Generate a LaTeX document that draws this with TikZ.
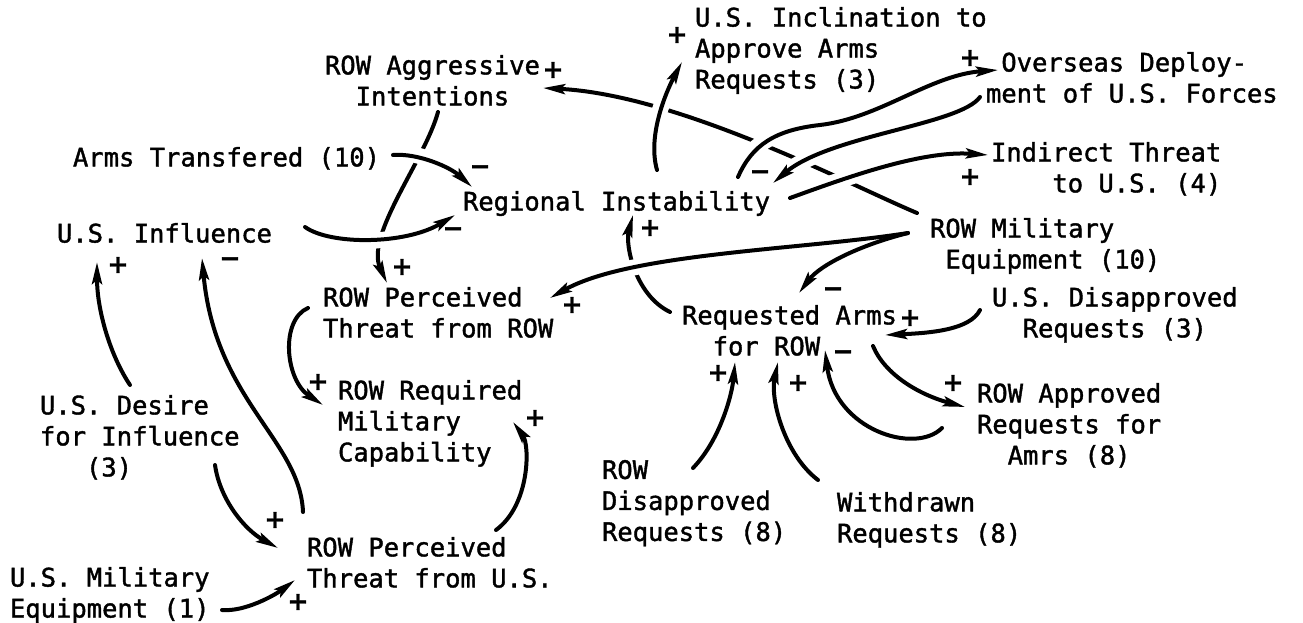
\documentclass[tikz,border=0pt]{standalone}
\usepackage{fontspec}
\usetikzlibrary{arrows.meta,calc}
\newfontfamily\labelfont{DejaVu Sans Mono}[FakeBold=1.5]
\newfontfamily\signfont{DejaVu Sans}[FakeBold=1.5]

\tikzset{
  var/.style={anchor=north west, inner sep=0pt, outer sep=0pt, align=left,
              font=\labelfont\fontsize{25.5}{31}\selectfont},
  link/.style={line width=4pt, line cap=round,
               -{Stealth[length=22pt,width=10pt,inset=4pt]}},
  hop/.style={preaction={draw=white, line width=16pt, -, line cap=butt,
              shorten <=14pt, shorten >=14pt}},
  sign/.style={inner sep=0pt, font=\signfont\bfseries\fontsize{25}{25}\selectfont},
}

\begin{document}
\begin{tikzpicture}[x=1pt,y=-1pt]
\useasboundingbox (0,0) rectangle (1303,623);

% variables of the causal loop model
\node[var] (incl) at (695,7) {U.S. Inclination to\\Approve Arms\\Requests (3)};
\node[var] (aggr) at (325,55) {ROW Aggressive\\\hphantom{xx}Intentions};
\node[var] (depl) at (986,52) {\hphantom{x}Overseas Deploy-\\ment of U.S. Forces};
\node[var] (indir) at (991,142) {Indirect Threat\\\hphantom{xxxx}to U.S. (4)};
\node[var] (arms) at (73,147) {Arms Transfered (10)};
\node[var] (regi) at (463,191) {Regional Instability};
\node[var] (infl) at (57,223) {U.S. Influence};
\node[var] (rowmil) at (930,218) {ROW Military\\\hphantom{x}Equipment (10)};
\node[var] (percrow) at (323,287) {ROW Perceived\\Threat from ROW};
\node[var] (reqarms) at (682,305) {Requested Arms\\\hphantom{xx}for ROW};
\node[var] (usdis) at (992,287) {U.S. Disapproved\\\hphantom{xx}Requests (3)};
\node[var] (reqcap) at (338,380) {ROW Required\\Military\\Capability};
\node[var] (desire) at (40,395) {U.S. Desire\\for Influence\\\hphantom{xxx}(3)};
\node[var] (approved) at (977,383) {ROW Approved\\Requests for\\\hphantom{xx}Amrs (8)};
\node[var] (rowdis) at (602,460) {ROW\\Disapproved\\Requests (8)};
\node[var] (withdrawn) at (837,492) {Withdrawn\\Requests (8)};
\node[var] (percus) at (307,537) {ROW Perceived\\Threat from U.S.};
\node[var] (usmil) at (10,567) {U.S. Military\\Equipment (1)};

% links that get broken where other links cross them
\draw[link] ($(rowmil.north west)+(-13,-5)$) .. controls +(-67,-28) and +(137,7) .. ($(aggr.north west)+(218,33)$);
\draw[link] ($(aggr.north west)+(113,57)$) .. controls +(-13,48) and +(-22,-48) .. ($(percrow.north west)+(64,-4)$);
\draw[link] ($(reqarms.north west)+(-12,7)$) .. controls +(-35,-17) and +(-8,30) .. ($(regi.north west)+(170,24)$);

% crossing links
\draw[link,hop] ($(arms.north west)+(320,8)$) .. controls +(25,-2) and +(-22,-20) .. ($(regi.north west)+(9,-4)$);
\draw[link,hop] ($(infl.north west)+(248,4)$) .. controls +(25,18) and +(-50,30) .. ($(regi.north west)+(-8,24)$);
\draw[link,hop] ($(regi.north west)+(194,-21)$) .. controls +(-10,-35) and +(-15,28) .. ($(incl.north west)+(-13,55)$);
\draw[link,hop] ($(regi.north west)+(275,-14)$) .. controls +(14,-32) and +(-45,5) .. ++(82,-52)
                .. controls +(60,-7) and +(-68,5) .. ($(depl.north west)+(12,18)$);
\draw[link,hop] ($(depl.north west)+(-6,45)$) .. controls +(-20,28) and +(57,-48) .. ($(regi.north west)+(310,-8)$);
\draw[link,hop] ($(regi.north west)+(327,7)$) .. controls +(50,-18) and +(-68,-5) .. ($(indir.north west)+(-3,13)$);
\draw[link,hop] ($(rowmil.north west)+(-22,15)$) .. controls +(-108,17) and +(80,-45) .. ($(percrow.north west)+(227,11)$);

% remaining links
\draw[link] ($(rowmil.north west)+(-22,15)$) .. controls +(-48,12) and +(21,-28) .. ($(reqarms.north west)+(117,-12)$);
\draw[link] ($(usdis.north west)+(-12,23)$) .. controls +(-10,20) and +(45,-2) .. ($(reqarms.north west)+(203,30)$);
\draw[link] ($(reqarms.north west)+(191,41)$) .. controls +(12,29) and +(-45,-12) .. ($(approved.north west)+(-12,24)$);
\draw[link] ($(approved.north west)+(-35,45)$) .. controls +(-27,27) and +(10,80) .. ($(reqarms.north west)+(143,45)$);
\draw[link] ($(rowdis.north west)+(91,8)$) .. controls +(27,-28) and +(-3,33) .. ($(reqarms.north west)+(53,57)$);
\draw[link] ($(withdrawn.north west)+(-19,-12)$) .. controls +(-33,-25) and +(-8,38) .. ($(reqarms.north west)+(96,57)$);
\draw[link] ($(percrow.north west)+(-15,21)$) .. controls +(-28,12) and +(-38,-25) .. ($(reqcap.north west)+(-15,25)$);
\draw[link] ($(percus.north west)+(189,-7)$) .. controls +(34,-25) and +(17,23) .. ($(reqcap.north west)+(175,42)$);
\draw[link] ($(percus.north west)+(-4,-25)$) .. controls +(-3,-72) and +(13,142) .. ($(infl.north west)+(145,35)$);
\draw[link] ($(desire.north west)+(90,-10)$) .. controls +(-20,-30) and +(0,48) .. ($(infl.north west)+(40,39)$);
\draw[link] ($(desire.north west)+(175,70)$) .. controls +(5,35) and +(-33,-18) .. ($(percus.north west)+(-29,11)$);
\draw[link] ($(usmil.north west)+(212,43)$) .. controls +(23,2) and +(-20,15) .. ($(percus.north west)+(-12,43)$);

% polarity of each link
\node[sign] (s1) at (480,170) {−};
\node[sign] (s2) at (453,232) {−};
\node[sign] (s3) at (402,267) {+};
\node[sign] (s4) at (677,35) {+};
\node[sign] (s5) at (553,70) {+};
\node[sign] (s6) at (970,58) {+};
\node[sign] (s7) at (760,175) {−};
\node[sign] (s8) at (970,177) {+};
\node[sign] (s9) at (572,305) {+};
\node[sign] (s10) at (833,292) {−};
\node[sign] (s11) at (650,228) {+};
\node[sign] (s12) at (910,318) {+};
\node[sign] (s13) at (953,383) {+};
\node[sign] (s14) at (843,355) {−};
\node[sign] (s15) at (718,373) {+};
\node[sign] (s16) at (798,383) {+};
\node[sign] (s17) at (318,382) {+};
\node[sign] (s18) at (535,418) {+};
\node[sign] (s19) at (230,262) {−};
\node[sign] (s20) at (118,265) {+};
\node[sign] (s21) at (275,520) {+};
\node[sign] (s22) at (298,602) {+};
\end{tikzpicture}
\end{document}
